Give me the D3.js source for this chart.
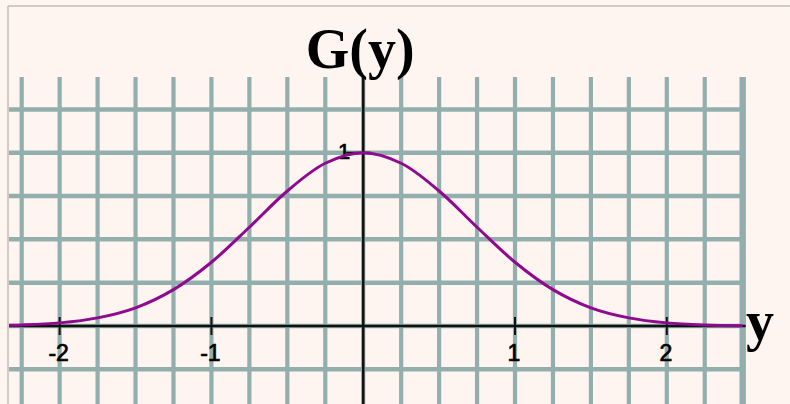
<!DOCTYPE html>
<html>
<head>
<meta charset="utf-8">
<script src="https://cdn.jsdelivr.net/npm/d3@7"></script>
<style>
  html, body { margin: 0; padding: 0; background: #fef5f0; }
  svg { display: block; }
</style>
</head>
<body>
<svg id="chart" width="790" height="404"></svg>
<script>
// Sampled curve G(y)
const yValues = [-2.35, -2.25, -2.0, -1.75, -1.5, -1.25, -1.0, -0.75, -0.5, -0.25, 0,
                 0.25, 0.5, 0.75, 1.0, 1.25, 1.5, 1.75, 2.0, 2.25, 2.5];
const gValues = [0.004, 0.006, 0.018, 0.047, 0.105, 0.21, 0.368, 0.57, 0.779, 0.939, 1.0,
                 0.939, 0.779, 0.57, 0.368, 0.21, 0.105, 0.047, 0.018, 0.006, 0.002];

// Axis ticks and labels
const xTicks = [-2, -1, 1, 2];
const xTickLabels = ["-2", "-1", "1", "2"];
const yTicks = [1];
const yTickLabels = ["1"];

// Grid lines every quarter unit
const gridX = d3.range(-2.25, 2.5001, 0.25);
const gridY = [1.25, 1.0, 0.75, 0.5, 0.25, 0, -0.25, -0.5];

const svg = d3.select("#chart");
const W = 790, H = 404;

const x = d3.scaleLinear().domain([-2.25, 2.5]).range([21.7, 742.7]);
const y = d3.scaleLinear().domain([0, 1]).range([326, 152.7]);

const frameLeft = 8, frameTop = 6, gridTop = 77;

// frame
svg.append("rect").attr("x", 0).attr("y", 0).attr("width", W).attr("height", H).attr("fill", "#fef5f0");
svg.append("line").attr("x1", frameLeft).attr("x2", W).attr("y1", frameTop).attr("y2", frameTop)
  .attr("stroke", "#c9bab2").attr("stroke-width", 1.5);
svg.append("line").attr("x1", frameLeft).attr("x2", frameLeft).attr("y1", frameTop).attr("y2", H)
  .attr("stroke", "#c9bab2").attr("stroke-width", 1.5);

const gridColor = "#92afae";
const grid = svg.append("g");
grid.selectAll("line.h").data(gridY).join("line")
  .attr("class", "h")
  .attr("x1", frameLeft + 1).attr("x2", x(2.5) + 2)
  .attr("y1", d => y(d)).attr("y2", d => y(d))
  .attr("stroke", gridColor).attr("stroke-width", 4.5);
grid.selectAll("line.v").data(gridX).join("line")
  .attr("class", "v")
  .attr("x1", d => x(d)).attr("x2", d => x(d))
  .attr("y1", gridTop).attr("y2", H)
  .attr("stroke", gridColor)
  .attr("stroke-width", (d, i) => i === gridX.length - 1 ? 6.5 : 4.2);

// axes
const axisColor = "#111";
svg.append("line").attr("x1", frameLeft + 1).attr("x2", x(2.5) + 3)
  .attr("y1", y(0)).attr("y2", y(0))
  .attr("stroke", axisColor).attr("stroke-width", 2.5);
svg.append("line").attr("x1", x(0)).attr("x2", x(0))
  .attr("y1", gridTop).attr("y2", H)
  .attr("stroke", axisColor).attr("stroke-width", 2.5);

// x ticks
const xt = svg.append("g");
xt.selectAll("line").data(xTicks).join("line")
  .attr("x1", d => x(d)).attr("x2", d => x(d))
  .attr("y1", y(0) - 9).attr("y2", y(0) + 9)
  .attr("stroke", axisColor).attr("stroke-width", 2);
xt.selectAll("text").data(xTicks).join("text")
  .attr("x", d => x(d) - 1).attr("y", 361)
  .attr("text-anchor", "middle")
  .attr("font-family", "Liberation Sans, Arial, sans-serif")
  .attr("font-size", 23)
  .attr("fill", "#000")
  .attr("stroke", "#000")
  .attr("stroke-width", 0.7)
  .text((d, i) => xTickLabels[i]);

// y ticks
const yt = svg.append("g");
yt.selectAll("line").data(yTicks).join("line")
  .attr("x1", x(0) - 17).attr("x2", x(0) + 8)
  .attr("y1", d => y(d)).attr("y2", d => y(d))
  .attr("stroke", axisColor).attr("stroke-width", 2);
yt.selectAll("text").data(yTicks).join("text")
  .attr("x", x(0) - 19).attr("y", d => y(d) + 6)
  .attr("text-anchor", "middle")
  .attr("font-family", "Liberation Sans, Arial, sans-serif")
  .attr("font-size", 22)
  .attr("fill", "#000")
  .attr("stroke", "#000")
  .attr("stroke-width", 0.7)
  .text((d, i) => yTickLabels[i]);

// curve
svg.append("clipPath").attr("id", "plotclip")
  .append("rect").attr("x", frameLeft + 1).attr("y", 0).attr("width", x(2.5) + 2 - frameLeft).attr("height", H);
const pts = yValues.map((v, i) => [v, gValues[i]]);
const line = d3.line().x(d => x(d[0])).y(d => y(d[1])).curve(d3.curveCatmullRom.alpha(0.5));
svg.append("path").datum(pts)
  .attr("d", line)
  .attr("clip-path", "url(#plotclip)")
  .attr("fill", "none")
  .attr("stroke", "#8e0a8e")
  .attr("stroke-width", 3);

// axis titles
svg.append("text")
  .attr("x", x(0) - 3).attr("y", 68)
  .attr("text-anchor", "middle")
  .attr("font-family", "Liberation Serif, Times New Roman, serif")
  .attr("font-weight", "bold")
  .attr("font-size", 56)
  .attr("fill", "#000")
  .text("G(y)");
svg.append("text")
  .attr("x", 746).attr("y", 340)
  .attr("font-family", "Liberation Serif, Times New Roman, serif")
  .attr("font-weight", "bold")
  .attr("font-size", 56)
  .attr("fill", "#000")
  .text("y");
</script>
</body>
</html>
